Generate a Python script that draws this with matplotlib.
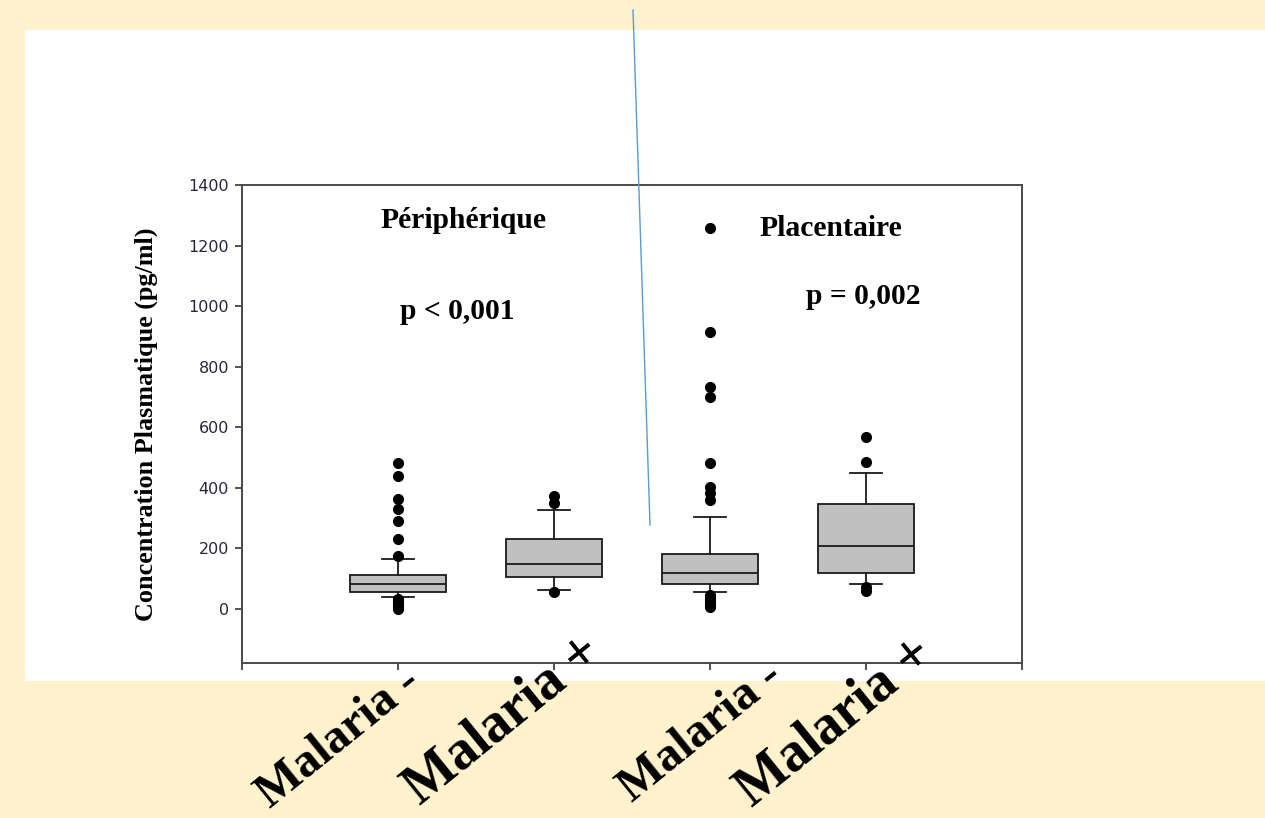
import matplotlib.pyplot as plt
from matplotlib.lines import Line2D
from matplotlib.patches import Rectangle

# -------------
# Data
# -------------

groups = ["Malaria -", "Malaria +", "Malaria -", "Malaria +"]
medians = [83, 148, 120, 209]
q1 = [58, 107, 82, 120]
q3 = [111, 232, 181, 346]
whisker_lo = [41, 63, 55, 82]
whisker_hi = [164, 327, 303, 448]
outliers = [
    [481, 439, 362, 331, 292, 231, 176, 33, 26, 19, 12, 6, 0],
    [373, 350, 58],
    [1258, 916, 734, 699, 481, 404, 382, 360, 45, 38, 30, 22, 15, 8],
    [569, 484, 74, 60],
]
yticks = [0, 200, 400, 600, 800, 1000, 1200, 1400]

# -------------
# Figure
# -------------

W, H = 1265, 818
fig = plt.figure(figsize=(W / 100, H / 100), dpi=100, facecolor="#FFF2CC")

# white slide area
fig.patches.append(Rectangle((25 / W, 1 - 681 / H), 1, (681 - 30) / H,
                             transform=fig.transFigure, facecolor="white",
                             edgecolor="none", zorder=-10))

ax = fig.add_axes([242 / W, 1 - 663 / H, 780 / W, 478 / H])
ax.set_facecolor("white")

stats = []
for i in range(len(groups)):
    stats.append(dict(med=medians[i], q1=q1[i], q3=q3[i],
                      whislo=whisker_lo[i], whishi=whisker_hi[i],
                      fliers=outliers[i]))

lw = 1.3
ax.bxp(stats, positions=[1, 2, 3, 4], widths=0.615, patch_artist=True,
       boxprops=dict(facecolor="#C0C0C0", edgecolor="#1a1a1a", linewidth=lw),
       medianprops=dict(color="#1a1a1a", linewidth=lw),
       whiskerprops=dict(color="#1a1a1a", linewidth=lw),
       capprops=dict(color="#1a1a1a", linewidth=lw),
       capwidths=0.2,
       flierprops=dict(marker="o", markerfacecolor="black",
                       markeredgecolor="black", markersize=7))

ax.set_xlim(0, 5)
ax.set_ylim(-178, 1400)
ax.set_xticks([0, 1, 2, 3, 4, 5])
ax.set_xticklabels([])
ax.set_yticks(yticks)
ax.set_yticklabels([str(v) for v in yticks], fontfamily="DejaVu Sans",
                   fontsize=11.5, color="#26263f")
ax.tick_params(axis="both", direction="out", length=5, width=1.2,
               color="#333333", pad=4.3)
for s in ax.spines.values():
    s.set_color("#4a4a4a")
    s.set_linewidth(1.4)

ax.set_ylabel("Concentration Plasmatique (pg/ml)", fontfamily="Liberation Serif",
              fontweight="bold", fontsize=18.8, labelpad=22)

# annotations
serif = dict(fontfamily="Liberation Serif", fontweight="bold", fontsize=21.3,
             ha="center", va="center", transform=fig.transFigure)
fig.text(463 / W, 1 - 220 / H, "Périphérique", **serif)
fig.text(457 / W, 1 - 311 / H, "p < 0,001", **serif)
fig.text(831 / W, 1 - 229 / H, "Placentaire", **serif)
fig.text(863 / W, 1 - 297 / H, "p = 0,002", **serif)

# rotated group labels
label_off = [(-128, -146), (-134, -143), (-78, -140), (-114, -145)]
label_size = [35, 40, 35, 40]
for i, lab in enumerate(groups):
    ax.annotate(lab, xy=(i + 1, 0), xycoords=("data", "axes fraction"),
                xytext=label_off[i], textcoords="offset pixels",
                rotation=39, rotation_mode="anchor", ha="left", va="baseline",
                fontfamily="Liberation Serif", fontweight="bold",
                fontsize=label_size[i], annotation_clip=False)

# blue pointer line
fig.lines.append(Line2D([633 / W, 650 / W], [1 - 10 / H, 1 - 525 / H],
                        transform=fig.transFigure, color="#5B9BD5", lw=1.0))

plt.savefig("out.png", dpi=100, facecolor=fig.get_facecolor())
